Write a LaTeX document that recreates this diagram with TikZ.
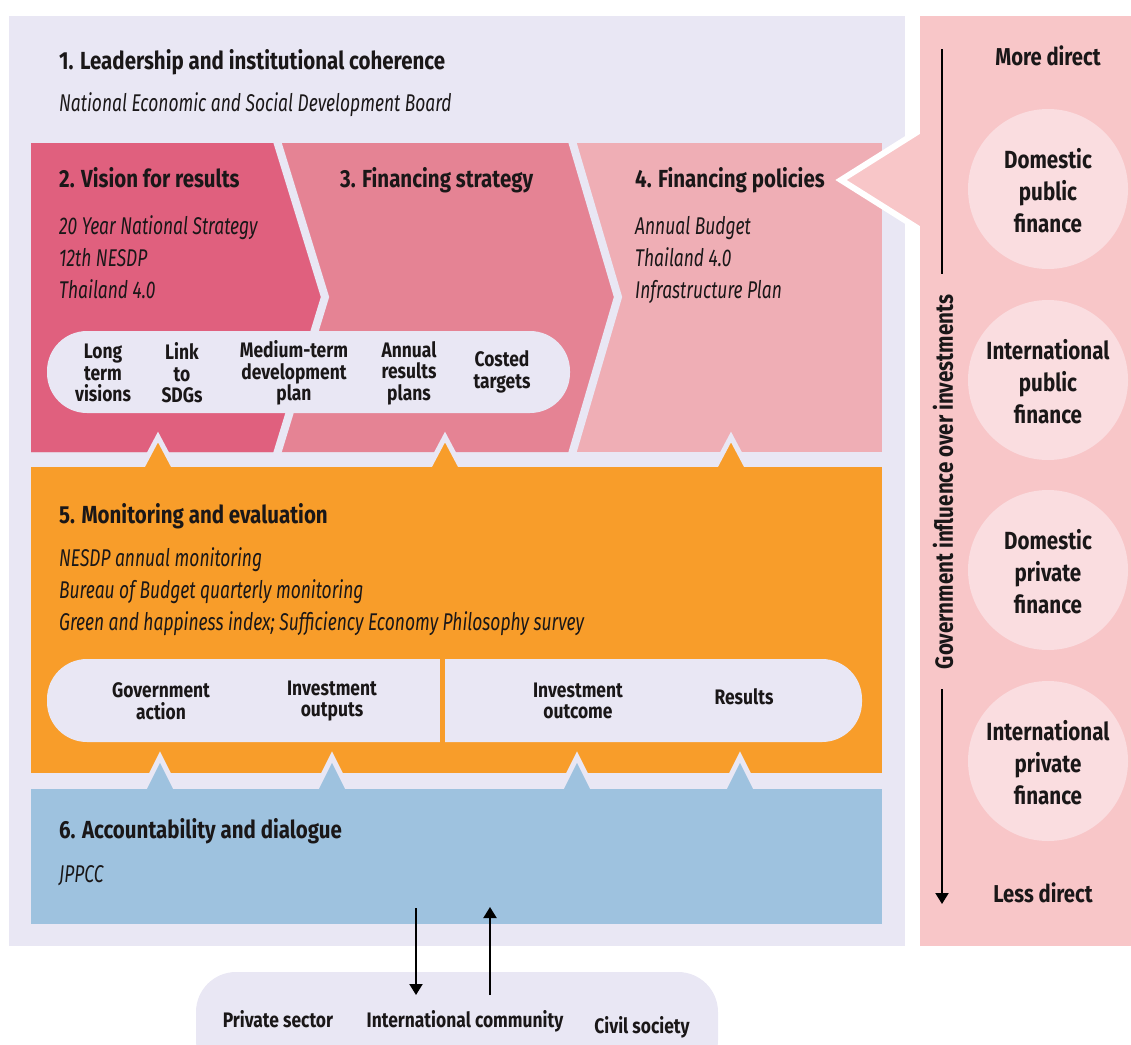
\documentclass[tikz,border=0pt]{standalone}
\usepackage{fontspec}
\setmainfont{Fira Sans}[FakeStretch=0.83]
\newfontfamily\bodyfont{Fira Sans}[FakeStretch=0.72]
\usepackage{tikz}
\usetikzlibrary{arrows,arrows.meta}
\usetikzlibrary{positioning}

\definecolor{lav}{HTML}{E9E7F4}
\definecolor{vision}{HTML}{E0607E}
\definecolor{strategy}{HTML}{E58394}
\definecolor{policy}{HTML}{EFAEB5}
\definecolor{monitor}{HTML}{F89D2A}
\definecolor{account}{HTML}{9EC2DF}
\definecolor{panel}{HTML}{F8C6C8}
\definecolor{fundfill}{HTML}{FADDE0}
\definecolor{ink}{HTML}{1A1718}

\begin{document}
\begin{tikzpicture}[x=1pt,y=-1pt,>={Triangle[length=11pt,width=13pt]},
    head/.style={anchor=base west,inner sep=0,text=ink,font=\bfseries\fontsize{24.7}{28}\selectfont},
    item/.style={anchor=base west,inner sep=0,text=ink,font=\bodyfont\itshape\fontsize{24.2}{28}\selectfont},
    tag/.style={align=center,inner sep=0,text=ink,font=\bfseries\fontsize{21}{21.5}\selectfont},
    fund/.style={align=center,inner sep=0,text=ink,font=\bfseries\fontsize{24.8}{32}\selectfont},
    side/.style={anchor=base,inner sep=0,text=ink,font=\bfseries\fontsize{24.4}{28}\selectfont},
    notch/.style={line width=5pt,draw=lav,line join=miter}]

  \useasboundingbox (0,0) rectangle (1131,1044);
  \clip (0,0) rectangle (1131,1044);

  \fill[lav] (9,16) rectangle (905,946);

  \fill[policy] (31,143) rectangle (882,452);
  \fill[strategy] (31,143) -- (572,143) -- (618,297) -- (572,452) -- (31,452) -- cycle;
  \fill[vision] (31,143) -- (277,143) -- (325,297) -- (277,452) -- (31,452) -- cycle;
  \draw[lav,line width=8pt] (277,141) -- (325,297) -- (277,454);
  \draw[lav,line width=8pt] (572,141) -- (618,297) -- (572,454);
  \fill[lav,rounded corners=40pt] (47,331) rectangle (570,413);

  \filldraw[fill=monitor,notch] (140,471) -- (158,437) -- (176,471);
  \filldraw[fill=monitor,notch] (427,471) -- (445,437) -- (463,471);
  \filldraw[fill=monitor,notch] (713,471) -- (731,437) -- (749,471);
  \fill[monitor] (31,467) rectangle (882,773);
  \fill[lav,rounded corners=40pt] (47,659) rectangle (862,742);
  \draw[monitor,line width=5pt] (442.5,655) -- (442.5,746);

  \filldraw[fill=account,notch] (142,793) -- (160,757) -- (178,793);
  \filldraw[fill=account,notch] (314,793) -- (332,757) -- (350,793);
  \filldraw[fill=account,notch] (559,793) -- (577,757) -- (595,793);
  \filldraw[fill=account,notch] (722,793) -- (740,757) -- (758,793);
  \fill[account] (31,789) rectangle (882,924);

  \filldraw[fill=panel,draw=white,line width=6pt,line join=miter] (930,124) -- (841,180) -- (930,236);
  \fill[panel] (920,16) rectangle (1131,946);
  \fill[fundfill] (1048,189) circle (80pt);
  \fill[fundfill] (1048,380) circle (80pt);
  \fill[fundfill] (1048,570) circle (80pt);
  \fill[fundfill] (1048,761) circle (80pt);

  \fill[lav,rounded corners=40pt] (196,972) rectangle (718,1080);

  \node (lead) [head] at (59,69) {1. Leadership and institutional coherence};
  \node (nesdb) [item] at (59,111) {National Economic and Social Development Board};

  \node (vis) [head] at (59,187) {2. Vision for results};
  \node (vis1) [item] at (59,234) {20 Year National Strategy};
  \node (vis2) [item] at (59,266) {12th NESDP};
  \node (vis3) [item] at (59,298) {Thailand 4.0};
  \node (strat) [head] at (340,187) {3. Financing strategy};
  \node (pol) [head] at (635,187) {4. Financing policies};
  \node (pol1) [item] at (635,234) {Annual Budget};
  \node (pol2) [item] at (635,266) {Thailand 4.0};
  \node (pol3) [item] at (635,298) {Infrastructure Plan};

  \node (long) [tag] at (103,373) {Long\\term\\visions};
  \node (sdg) [tag] at (182,373) {Link\\to\\SDGs};
  \node (mtdp) [tag] at (294,373) {Medium-term\\development\\plan};
  \node (arp) [tag] at (409,373) {Annual\\results\\plans};
  \node (cost) [tag] at (502,372) {Costed\\targets};

  \node (mon) [head] at (59,523) {5. Monitoring and evaluation};
  \node (mon1) [item] at (59,566) {NESDP annual monitoring};
  \node (mon2) [item] at (59,598) {Bureau of Budget quarterly monitoring};
  \node (mon3) [item] at (59,630) {Green and happiness index; Sufficiency Economy Philosophy survey};

  \node (gact) [tag] at (161,701) {Government\\action};
  \node (iout) [tag] at (332,701) {Investment\\outputs};
  \node (icome) [tag] at (578,701) {Investment\\outcome};
  \node (res) [tag] at (744,697) {Results};

  \node (acc) [head] at (59,838) {6. Accountability and dialogue};
  \node (jppcc) [item] at (59,882) {JPPCC};

  \node (priv) [tag,anchor=base] at (278,1027) {Private sector};
  \node (intl) [tag,anchor=base] at (465,1027) {International community};
  \node (civ) [tag,anchor=base] at (642,1033) {Civil society};

  \node (more) [side] at (1048,65) {More direct};
  \node (less) [side] at (1043,902) {Less direct};
  \node (dpub) [fund] at (1048,191) {Domestic\\public\\finance};
  \node (ipub) [fund] at (1048,382) {International\\public\\finance};
  \node (dpriv) [fund] at (1048,572) {Domestic\\private\\finance};
  \node (ipriv) [fund] at (1048,763) {International\\private\\finance};
  \node (gov) [rotate=90,inner sep=0,text=ink,font=\bfseries\fontsize{24.8}{28}\selectfont] at (943,482) {Government influence over investments};

  \coordinate (axtop) at (942,49);
  \coordinate (axbot) at (942,904);
  \draw[line width=2pt,shorten >=21pt] (axtop) -- (axtop |- gov.east);
  \draw[line width=2pt,->,shorten <=20pt] (axbot |- gov.west) -- (axbot);

  \coordinate (down1) at (416,908);
  \coordinate (down2) at (416,995);
  \coordinate (up1) at (490,995);
  \coordinate (up2) at (490,907);
  \draw[line width=2pt,->] (down1) -- (down2);
  \draw[line width=2pt,->] (up1) -- (up2);
\end{tikzpicture}
\end{document}
